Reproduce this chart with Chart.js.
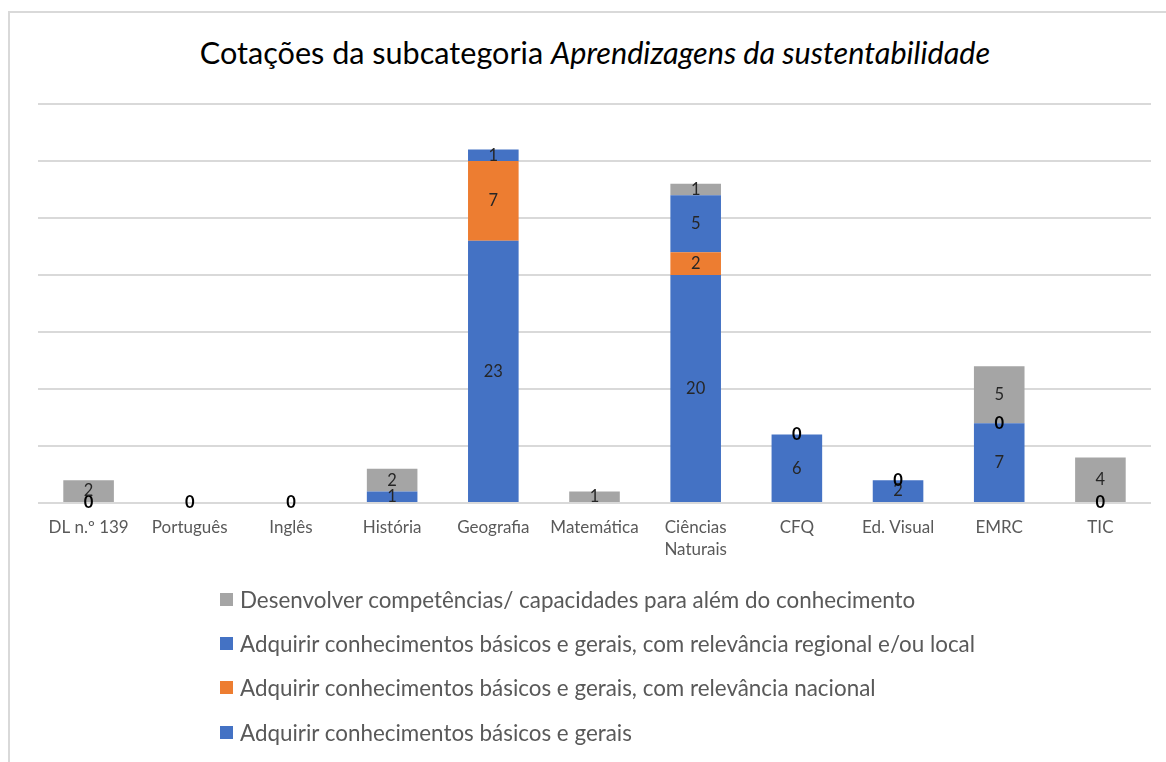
<!DOCTYPE html>
<html lang="pt">
<head>
<meta charset="utf-8">
<script src="https://cdn.jsdelivr.net/npm/chart.js@4.4.1/dist/chart.umd.min.js"></script>
<style>
  html, body { margin: 0; padding: 0; background: #fff; overflow: hidden; }
  body { width: 1166px; height: 762px; position: relative; font-family: Lato, sans-serif; }
  .frame {
    position: absolute; left: 8px; top: 11px; width: 1300px; height: 900px;
    border-top: 2px solid #d9d9d9; border-left: 2px solid #d9d9d9;
  }
  .title {
    position: absolute; left: 0; top: 33px; width: 1190px; text-align: center;
    font-size: 30.6px; color: #000; line-height: 40px;
  }
  .chart-box { position: absolute; left: 0; top: 0; width: 1166px; height: 580px; }
  .legend { position: absolute; left: 220px; top: 577px; }
  .legend-item {
    height: 44.3px; display: flex; align-items: center;
    font-size: 22.4px; color: #595959;
  }
  .legend-item span.box { width: 13px; height: 13px; margin-right: 7px; display: inline-block; }
</style>
</head>
<body>
<div class="frame"></div>
<div class="title">Cotações da subcategoria <i>Aprendizagens da sustentabilidade</i></div>
<div class="chart-box"><canvas id="chart" width="1166" height="580"></canvas></div>
<div class="legend" id="legend"></div>

<script>
  /* ================= DATA ================= */
  const categories = [
    "DL n.º 139", "Português", "Inglês", "História", "Geografia", "Matemática",
    ["Ciências", "Naturais"], "CFQ", "Ed. Visual", "EMRC", "TIC",
  ];

  // null = no label shown, 0 = zero label shown
  const basicos = [null, null, null, 1, 23, null, 20, 6, 2, 7, null];
  const nacional = [null, null, null, null, 7, null, 2, null, null, null, null];
  const regional = [0, 0, 0, null, 1, null, 5, 0, 0, 0, 0];
  const competencias = [2, null, null, 2, null, 1, 1, null, null, 5, 4];

  const yTicks = [0, 5, 10, 15, 20, 25, 30, 35];

  const seriesNames = [
    "Adquirir conhecimentos básicos e gerais",
    "Adquirir conhecimentos básicos e gerais, com relevância nacional",
    "Adquirir conhecimentos básicos e gerais, com relevância regional e/ou local",
    "Desenvolver competências/ capacidades para além do conhecimento",
  ];
  const colors = ["#4472C4", "#ED7D31", "#4472C4", "#A5A5A5"];

  /* ================= LABEL PLUGIN ================= */
  const barLabels = {
    id: "barLabels",
    afterDatasetsDraw(chart) {
      const ctx = chart.ctx;
      ctx.save();
      ctx.textAlign = "center";
      ctx.textBaseline = "middle";
      chart.data.datasets.forEach((ds, i) => {
        const meta = chart.getDatasetMeta(i);
        meta.data.forEach((bar, j) => {
          const v = ds.data[j];
          if (v === null || v === undefined) return;
          if (v === 0) {
            ctx.font = "bold 16.5px Lato";
            ctx.fillStyle = "#000";
          } else {
            ctx.font = "16.5px Lato";
            ctx.fillStyle = "#262626";
          }
          ctx.fillText(String(v), bar.x, (bar.y + bar.base) / 2);
        });
      });
      ctx.restore();
    },
  };

  Chart.defaults.font.family = "Lato";

  const datasets = [basicos, nacional, regional, competencias].map((d, i) => ({
    label: seriesNames[i],
    data: d,
    backgroundColor: colors[i],
    borderWidth: 0,
    categoryPercentage: 1,
    barPercentage: 0.5,
  }));

  new Chart(document.getElementById("chart"), {
    type: "bar",
    data: { labels: categories, datasets },
    plugins: [barLabels],
    options: {
      responsive: false,
      animation: false,
      maintainAspectRatio: false,
      layout: { padding: { top: 104, right: 15, left: 0, bottom: 0 } },
      plugins: { legend: { display: false }, tooltip: { enabled: false } },
      scales: {
        x: {
          stacked: true,
          grid: { display: false, drawTicks: false },
          border: { display: false },
          ticks: { color: "#595959", font: { size: 17, lineHeight: 1.3 }, padding: 13 },
          afterFit: (s) => { s.height = 77; },
        },
        y: {
          stacked: true,
          min: yTicks[0],
          max: yTicks[yTicks.length - 1],
          afterBuildTicks: (s) => { s.ticks = yTicks.map((v) => ({ value: v })); },
          ticks: { display: false },
          grid: { color: "#d9d9d9", lineWidth: 2, drawTicks: false },
          border: { display: false },
          afterFit: (s) => { s.width = 38; },
        },
      },
    },
  });

  /* ================= LEGEND ================= */
  const legend = document.getElementById("legend");
  for (let i = seriesNames.length - 1; i >= 0; i--) {
    const row = document.createElement("div");
    row.className = "legend-item";
    row.innerHTML = `<span class="box" style="background:${colors[i]}"></span>${seriesNames[i]}`;
    legend.appendChild(row);
  }
</script>
</body>
</html>
